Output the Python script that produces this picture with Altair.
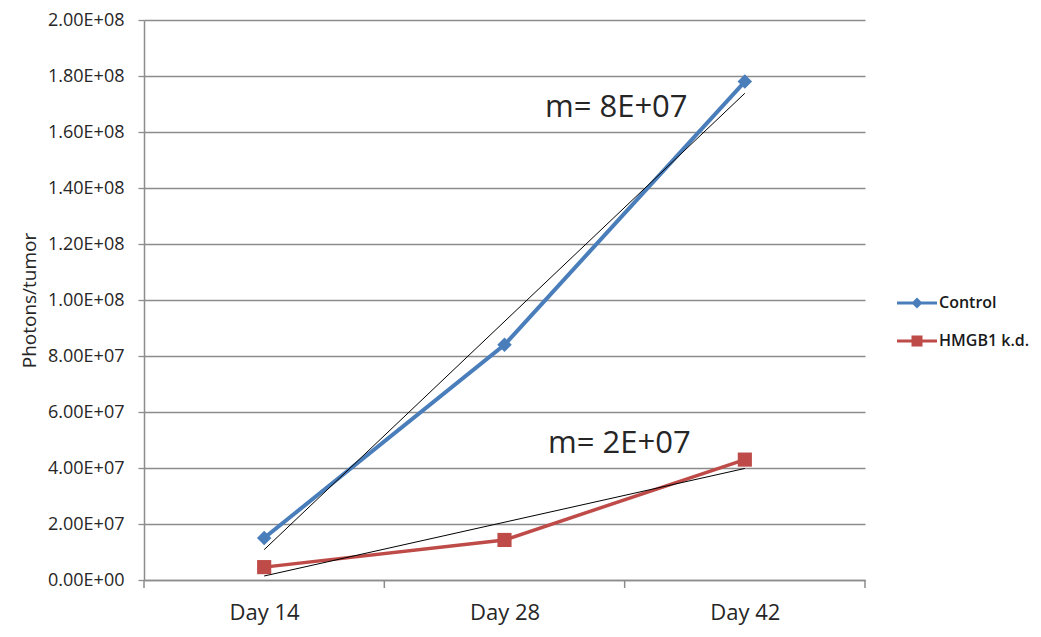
import json
import altair as alt
import pandas as pd

# ---- data ----
days = ["Day 14", "Day 28", "Day 42"]
day_index = [1, 2, 3]
series_names = ["Control", "HMGB1 k.d."]
series_colors = ["#4a7ebb", "#be4b48"]
series_shapes = ["diamond", "square"]
control_values = [1.5e7, 8.4e7, 1.78e8]
hmgb1_values = [4.6e6, 1.43e7, 4.3e7]
y_tick_values = [0, 2e7, 4e7, 6e7, 8e7, 1e8, 1.2e8, 1.4e8, 1.6e8, 1.8e8, 2e8]
x_boundaries = [0.5, 1.5, 2.5, 3.5]
annot_labels = ["m= 8E+07", "m= 2E+07"]
annot_x = [2.465, 2.478]
annot_y = [1.654e8, 4.54e7]

rows = []
for name, vals in zip(series_names, [control_values, hmgb1_values]):
    for d, i, v in zip(days, day_index, vals):
        rows.append({"series": name, "day": d, "idx": i, "value": v})
df = pd.DataFrame(rows)
ticks_df = pd.DataFrame({"t": x_boundaries})
annot_df = pd.DataFrame({"label": annot_labels, "ax": annot_x, "ay": annot_y})

FONT = "Open Sans"
GRAY = "#8c8c8c"

xscale = alt.Scale(domain=[0.5, 3.5], nice=False, zero=False)
yscale = alt.Scale(domain=[0, 2e8], nice=False)
cscale = alt.Scale(domain=series_names, range=series_colors)

exp = "floor(log(datum.value) / LN10 + 1e-9)"
y_label_expr = (
    "datum.value == 0 ? '0.00E+00' : format(datum.value / pow(10, " + exp + "), '.2f') + 'E+' + ("
    + exp + " < 10 ? '0' : '') + " + exp
)
x_label_expr = json.dumps(days) + "[datum.value - 1]"

x_axis = alt.Axis(
    values=day_index, labelExpr=x_label_expr, grid=False, ticks=False,
    domainColor=GRAY, domainWidth=1.5, labelFont=FONT, labelFontSize=22,
    labelColor="#262626", labelPadding=22, title=None,
)
y_axis = alt.Axis(
    values=y_tick_values, labelExpr=y_label_expr, tickSize=6, tickColor=GRAY, tickWidth=1.3,
    domainColor=GRAY, domainWidth=1.5, grid=True, gridColor=GRAY, gridWidth=1.3,
    labelFont=FONT, labelFontSize=18, labelColor="#262626", labelPadding=14,
    title="Photons/tumor", titleFont=FONT, titleFontSize=19, titleFontWeight="normal",
    titleColor="#262626", titlePadding=8,
)

X = alt.X("idx:Q", scale=xscale, axis=x_axis)
Y = alt.Y("value:Q", scale=yscale, axis=y_axis)

base = alt.Chart(df)

layers = []
x_ticks = alt.Chart(ticks_df).mark_rule(color=GRAY, strokeWidth=1.5).encode(
    x=alt.X("t:Q", scale=xscale, axis=x_axis),
    y=alt.value(560),
    y2=alt.value(568),
)
layers.append(x_ticks)

for name, col, shp, w in zip(series_names, series_colors, series_shapes, [4, 3.5]):
    sub = base.transform_filter(alt.datum.series == name)
    layers.append(sub.mark_line(strokeWidth=w, color=col).encode(x=X, y=Y))
    layers.append(
        sub.mark_point(shape=shp, filled=True, size=210 if shp == "diamond" else 200,
                       opacity=1, color=col).encode(x=X, y=Y)
    )

trend = base.transform_regression("idx", "value", groupby=["series"]).mark_line(
    color="black", strokeWidth=1
).encode(x=X, y=Y, detail="series:N")
layers.append(trend)

annot = alt.Chart(annot_df).mark_text(
    font=FONT, fontSize=31, align="center", baseline="alphabetic", color="#262626"
).encode(
    x=alt.X("ax:Q", scale=xscale, axis=x_axis),
    y=alt.Y("ay:Q", scale=yscale, axis=y_axis),
    text="label:N",
)
layers.append(annot)

legend_paths = [
    "M-4,-0.3H4V0.3H-4Z M0,-1.1L1.1,0L0,1.1L-1.1,0Z",
    "M-4,-0.3H4V0.3H-4Z M-1.1,-1.1H1.1V1.1H-1.1Z",
]
leg = alt.Legend(
    orient="none", legendX=765, legendY=275, title=None,
    labelFont=FONT, labelFontSize=16, labelFontWeight=600, labelColor="#1a1a1a",
    labelOffset=14, rowPadding=22, symbolSize=100, symbolStrokeWidth=0,
)
legend_layer = base.transform_filter("false").mark_point(filled=True, opacity=1).encode(
    x=X, y=Y,
    color=alt.Color("series:N", scale=cscale, legend=leg),
    shape=alt.Shape("series:N", scale=alt.Scale(domain=series_names, range=legend_paths), legend=leg),
)
layers.append(legend_layer)

chart = alt.layer(*layers).properties(
    width=721, height=560,
    padding={"left": 144, "top": 20, "right": 176, "bottom": 57},
    autosize=alt.AutoSizeParams(type="none"),
    background="white",
).configure_view(stroke=None)

chart.save("out.html", embed_options={"renderer": "svg", "actions": False})
